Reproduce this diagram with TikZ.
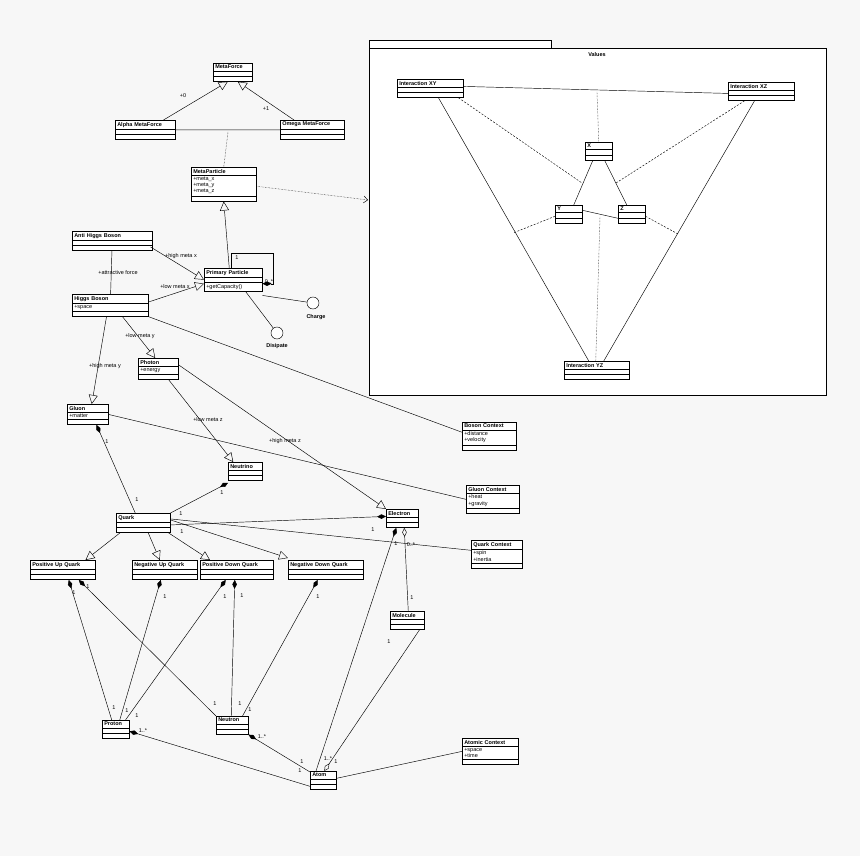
\documentclass[tikz,border=0pt]{standalone}
\usepackage{fontspec}
\setmainfont{Liberation Sans}
\usetikzlibrary{shapes.multipart,arrows.meta}
\definecolor{bgcol}{RGB}{247,247,247}
\tikzset{
  cls/.style={draw, fill=white, rectangle split, rectangle split parts=3, rectangle split part align={center,left,left},
    font=\fontsize{5.5}{6.3}\selectfont, inner xsep=2pt, inner ysep=1.6pt, anchor=north west, text width=#1-4pt, line width=0.5pt},
  lbl/.style={font=\fontsize{5.5}{6}\selectfont, inner sep=0.5pt},
  gen/.style={-{Triangle[open,length=9pt,width=9pt]}},
  comp/.style={{Diamond[length=9pt,width=4.5pt]}-},
  agg/.style={{Diamond[open,length=9pt,width=4.5pt]}-},
  dep/.style={densely dotted,-{Straight Barb[length=4pt,width=7pt]}},
  itf/.style={draw, fill=white, circle, minimum size=12pt, inner sep=0pt},
}
\newcommand{\ee}{\rule{0pt}{1.6pt}}
\begin{document}
\begin{tikzpicture}[x=1pt,y=-1pt,line width=0.45pt]
\fill[bgcol] (0,0) rectangle (860,856);
\useasboundingbox (0,0) rectangle (860,856);

% package
\draw[fill=white] (369,40) rectangle (551,48);
\node[draw, fill=white, anchor=north west, minimum width=457pt, minimum height=347pt, inner sep=0pt] (values) at (369,48) {};
\node[lbl] at (597,55) {\textbf{Values}};

% classes
\node[cls=39pt] (metaforce) at (213,63) {\textbf{MetaForce}\nodepart{two}\ee\nodepart{three}\ee};
\node[cls=60pt] (alpha) at (115,120) {\textbf{Alpha MetaForce}\nodepart{two}\ee\nodepart{three}\ee};
\node[cls=64pt] (omega) at (280,120) {\textbf{Omega MetaForce}\nodepart{two}\ee\nodepart{three}\ee};
\node[cls=65pt] (metaparticle) at (191,167) {\textbf{MetaParticle}\nodepart{two}+meta\_x\\+meta\_y\\+meta\_z\nodepart{three}\ee};
\node[cls=80pt] (anti) at (72,231) {\textbf{Anti Higgs Boson}\nodepart{two}\ee\nodepart{three}\ee};
\node[cls=58pt] (primary) at (204,268) {\textbf{Primary Particle}\nodepart{two}\ee\nodepart{three}+getCapacity()};
\node[cls=76pt] (higgs) at (72,294) {\textbf{Higgs Boson}\nodepart{two}+space\nodepart{three}\ee};
\node[cls=40pt] (photon) at (138,358) {\textbf{Photon}\nodepart{two}+energy\nodepart{three}\ee};
\node[cls=41pt] (gluon) at (67,404) {\textbf{Gluon}\nodepart{two}+matter\nodepart{three}\ee};
\node[cls=34pt] (neutrino) at (228,462) {\textbf{Neutrino}\nodepart{two}\ee\nodepart{three}\ee};
\node[cls=54pt] (bosonctx) at (462,422) {\textbf{Boson Context}\nodepart{two}+distance\\+velocity\nodepart{three}\ee};
\node[cls=53pt] (gluonctx) at (466,485) {\textbf{Gluon Context}\nodepart{two}+heat\\+gravity\nodepart{three}\ee};
\node[cls=54pt] (quark) at (116,513) {\textbf{Quark}\nodepart{two}\ee\nodepart{three}\ee};
\node[cls=32pt] (electron) at (386,509) {\textbf{Electron}\nodepart{two}\ee\nodepart{three}\ee};
\node[cls=51pt] (quarkctx) at (471,540) {\textbf{Quark Context}\nodepart{two}+spin\\+inertia\nodepart{three}\ee};
\node[cls=65pt] (posup) at (30,560) {\textbf{Positive Up Quark}\nodepart{two}\ee\nodepart{three}\ee};
\node[cls=65pt] (negup) at (132,560) {\textbf{Negative Up Quark}\nodepart{two}\ee\nodepart{three}\ee};
\node[cls=73pt] (posdown) at (200,560) {\textbf{Positive Down Quark}\nodepart{two}\ee\nodepart{three}\ee};
\node[cls=75pt] (negdown) at (288,560) {\textbf{Negative Down Quark}\nodepart{two}\ee\nodepart{three}\ee};
\node[cls=34pt] (molecule) at (390,611) {\textbf{Molecule}\nodepart{two}\ee\nodepart{three}\ee};
\node[cls=27pt] (proton) at (102,720) {\textbf{Proton}\nodepart{two}\ee\nodepart{three}\ee};
\node[cls=32pt] (neutron) at (216,716) {\textbf{Neutron}\nodepart{two}\ee\nodepart{three}\ee};
\node[cls=26pt] (atom) at (310,771) {\textbf{Atom}\nodepart{two}\ee\nodepart{three}\ee};
\node[cls=56pt] (atomicctx) at (462,738) {\textbf{Atomic Context}\nodepart{two}+space\\+time\nodepart{three}\ee};

\node[cls=66pt] (ixy) at (397,79) {\textbf{Interaction XY}\nodepart{two}\ee\nodepart{three}\ee};
\node[cls=66pt] (ixz) at (728,82) {\textbf{Interaction XZ}\nodepart{two}\ee\nodepart{three}\ee};
\node[cls=27pt] (x) at (585,142) {\textbf{X}\nodepart{two}\ee\nodepart{three}\ee};
\node[cls=27pt] (y) at (555,205) {\textbf{Y}\nodepart{two}\ee\nodepart{three}\ee};
\node[cls=27pt] (z) at (618,205) {\textbf{Z}\nodepart{two}\ee\nodepart{three}\ee};
\node[cls=65pt] (iyz) at (564,361) {\textbf{Interaction YZ}\nodepart{two}\ee\nodepart{three}\ee};

% interfaces
\node[itf] (charge) at (313,303) {};
\node[lbl] at (316,317) {\textbf{Charge}};
\node[itf] (disipate) at (277,333) {};
\node[lbl] at (277,346) {\textbf{Disipate}};

% helper points
\coordinate (amid) at (228,132);
\coordinate (valin) at (368,200);
\coordinate (xyline) at (597,92);
\coordinate (yzline) at (600,217);
\coordinate (xyl) at (582,183);
\coordinate (xzl) at (616,183);
\coordinate (ypt) at (513,233);
\coordinate (zpt) at (678,234);

% top part
\draw[gen] (alpha.north east) ++(-12,0) -- ([xshift=-5pt]metaforce.south);
\node[lbl] at (183,96) {+0};
\draw[gen] (omega.north west) ++(14,0) -- ([xshift=5pt]metaforce.south);
\node[lbl] at (266,109) {+1};
\draw (alpha) -- (omega);
\draw[densely dotted] (amid) -- (metaparticle.north);
\draw[dep] (metaparticle.east) ++(0,2) -- (valin);
\draw[gen] ([xshift=-4pt]primary.north) -- (metaparticle.south);
\draw[comp] ([yshift=-4pt]primary.east) -| ++(11,-31) -| ([xshift=-2pt]primary.north);
\node[lbl] at (237,258) {1};
\node[lbl] at (269,282) {0..*};
\draw[gen] (anti.south east) ++(-2,-4) -- (primary.west);
\node[lbl] at (181,256) {+high meta x};
\draw[gen] (higgs.north east) ++(0,8) -- ([yshift=-4pt]primary.west);
\node[lbl] at (175,287) {+low meta x};
\draw (anti) -- (higgs);
\node[lbl] at (118,273) {+attractive force};
\draw ([yshift=-4pt]primary.south east) -- (charge);
\draw ([xshift=-17pt]primary.south east) -- (disipate);

% bosons
\draw[gen] ([xshift=-26pt]higgs.south east) -- ([xshift=-3pt]photon.north);
\node[lbl] at (140,336) {+low meta y};
\draw[gen] ([xshift=-42pt]higgs.south east) -- ([xshift=4pt]gluon.north);
\node[lbl] at (105,366) {+high meta y};
\draw (higgs.south east) -- ([yshift=4pt]bosonctx.west);
\draw[gen] ([xshift=-10pt]photon.south east) -- ([xshift=-12pt]neutrino.north);
\node[lbl] at (208,420) {+low meta z};
\draw[gen] ([yshift=4pt]photon.east) -- (electron.north west);
\node[lbl] at (285,441) {+high meta z};
\draw (gluon.east) -- (gluonctx.west);

% quarks
\draw[comp] ([xshift=-12pt]gluon.south east) -- ([xshift=-8pt]quark.north);
\node[lbl] at (107,442) {1};
\node[lbl] at (137,500) {1};
\draw[comp] ([yshift=-2pt]neutrino.south west) -- (quark.north east);
\node[lbl] at (222,493) {1};
\node[lbl] at (181,514) {1};
\draw[comp] ([yshift=2pt]electron.west) -- ([yshift=-2pt]quark.east);
\node[lbl] at (373,530) {1};
\draw ([yshift=4pt]quark.east) -- ([yshift=4pt]quarkctx.west);
\node[lbl] at (182,532) {1};
\draw[gen] ([xshift=4pt]quark.south west) -- ([xshift=-10pt]posup.north east);
\draw[gen] ([xshift=5pt]quark.south) -- ([xshift=-5pt]negup.north);
\draw[gen] ([xshift=-2pt]quark.south east) -- ([xshift=10pt]posdown.north west);
\draw[gen] ([yshift=3pt]quark.east) -- ([yshift=2pt]negdown.north west);

% nucleons
\draw[comp] ([xshift=6pt]posup.south) -- ([xshift=-4pt]proton.north);
\node[lbl] at (74,593) {1};
\node[lbl] at (114,708) {1};
\draw[comp] ([xshift=16pt]posup.south) -- (neutron.north west);
\node[lbl] at (88,587) {1};
\node[lbl] at (215,704) {1};
\draw[comp] ([xshift=-4pt]negup.south) -- ([xshift=4pt]proton.north);
\node[lbl] at (165,597) {1};
\node[lbl] at (127,711) {1};
\draw[comp] ([xshift=-11pt]posdown.south) -- ([xshift=-4pt]proton.north east);
\node[lbl] at (225,597) {1};
\node[lbl] at (137,716) {1};
\draw[comp] ([xshift=-2pt]posdown.south) -- ([xshift=-1pt]neutron.north);
\node[lbl] at (242,596) {1};
\node[lbl] at (240,704) {1};
\draw[comp] ([xshift=-8pt]negdown.south) -- ([xshift=-6pt]neutron.north east);
\node[lbl] at (318,597) {1};
\node[lbl] at (250,710) {1};
\draw[comp] ([yshift=-2pt]proton.east) -- ([yshift=-6pt]atom.west);
\node[lbl] at (143,731) {1..*};
\node[lbl] at (300,771) {1};
\draw[comp] (neutron.south east) -- ([yshift=-1pt]atom.north west);
\node[lbl] at (262,737) {1..*};
\node[lbl] at (302,762) {1};
\draw[comp] ([xshift=-6pt]electron.south) -- ([xshift=6pt]atom.north west);
\node[lbl] at (328,759) {1..*};
\node[lbl] at (396,544) {1};
\draw[agg] ([xshift=2pt]electron.south) -- ([xshift=1pt]molecule.north);
\node[lbl] at (412,598) {1};
\node[lbl] at (411,545) {0..*};
\draw[agg] ([xshift=1pt]atom.north) -- ([xshift=-5pt]molecule.south east);
\node[lbl] at (389,642) {1};
\node[lbl] at (336,762) {1};
\draw ([yshift=2pt]atom.east) -- (atomicctx.west);

% values
\draw (ixy.east) ++(0,-2) -- ([yshift=-2pt]ixz.west);
\draw[densely dotted] (xyline) -- (x.north);
\draw[dashed, dash pattern=on 2pt off 1.5pt] ([xshift=-5pt]ixy.south east) -- (xyl);
\draw[dashed, dash pattern=on 2pt off 1.5pt] ([xshift=-50pt]ixz.south east) -- (xzl);
\draw ([xshift=-25pt]ixy.south east) -- ([xshift=-8pt]iyz.north);
\draw ([xshift=-40pt]ixz.south east) -- ([xshift=7pt]iyz.north);
\draw ([xshift=-6pt]x.south) -- ([xshift=5pt]y.north);
\draw ([xshift=6pt]x.south) -- ([xshift=-5pt]z.north);
\draw (y.east) ++(0,-4) -- ([yshift=-4pt]z.west);
\draw[densely dotted] (yzline) -- ([xshift=-1pt]iyz.north);
\draw[dashed, dash pattern=on 2pt off 1.5pt] ([yshift=-2pt]y.west) -- (ypt);
\draw[dashed, dash pattern=on 2pt off 1.5pt] ([yshift=-2pt]z.east) -- (zpt);
\end{tikzpicture}
\end{document}
